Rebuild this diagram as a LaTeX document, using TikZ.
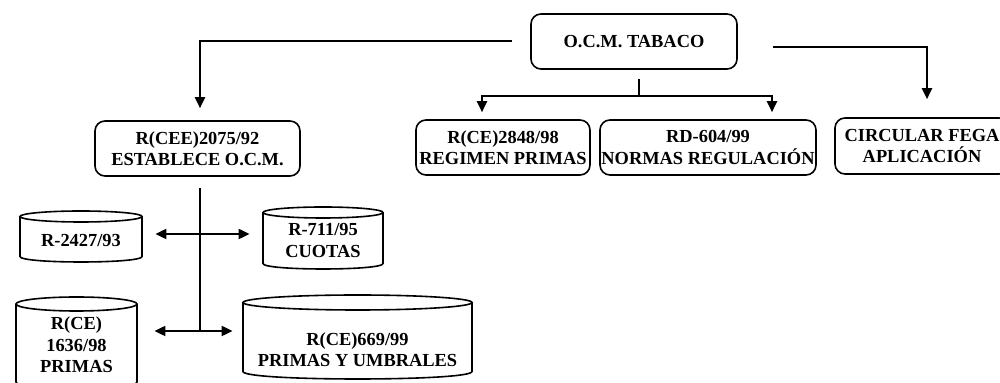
\documentclass[tikz,border=0pt]{standalone}
\usepackage{fontspec}
\setmainfont{Liberation Serif}
\usetikzlibrary{arrows.meta,calc}
\tikzset{
  boxnode/.style={draw,line width=0.8pt,rounded corners=5pt,align=center,inner sep=0pt,
    font=\fontsize{9.2}{10.7}\selectfont\bfseries},
  drumtext/.style={align=center,inner sep=0pt,font=\fontsize{9.2}{10.7}\selectfont\bfseries},
  drumline/.style={line width=0.8pt},
  conn/.style={line width=1pt,-{Triangle[length=5.5pt,width=5pt]}},
  plain/.style={line width=1pt},
  dbl/.style={line width=1pt,{Triangle[length=5.5pt,width=5pt]}-{Triangle[length=5.5pt,width=5pt]}}
}
% #1 name, #2 x1, #3 x2, #4 ytop, #5 ybot, #6 ry, #7 text, #8 text y shift (px)
\newcommand\drumshape[8]{%
  \draw[drumline] ({#2},{#4+#6}) -- ({#2},{#5-#6})
    .. controls ({#2},{#5-#6+1.333*#6}) and ({#3},{#5-#6+1.333*#6}) .. ({#3},{#5-#6})
    -- ({#3},{#4+#6});
  \draw[drumline] ({(#2+#3)/2},{#4+#6}) ellipse [x radius={(#3-#2)/2}, y radius={#6}];
  \node[drumtext,minimum width={(#3-#2)*0.5pt}] (#1) at ({(#2+#3)/2},{(#4+2*#6+#5)/2+#8}) {#7};
}
\begin{document}
\begin{tikzpicture}[x=0.5pt,y=-0.5pt]
\useasboundingbox (0,0) rectangle (1000,383);
\clip (0,0) rectangle (1000,383);
% boxes
\node[boxnode,minimum width=103pt,minimum height=27.5pt] (ocm) at (634,41.5) {O.C.M. TABACO};
\node[boxnode,minimum width=102.5pt,minimum height=27.5pt] (b2075) at (197.5,148.5) {R(CEE)2075/92\\ESTABLECE O.C.M.};
\node[boxnode,minimum width=87pt,minimum height=27.5pt] (b2848) at (503,147.5) {R(CE)2848/98\\REGIMEN PRIMAS};
\node[boxnode,minimum width=108pt,minimum height=27.5pt] (b604) at (708,147.5) {RD-604/99\\NORMAS REGULACIÓN};
\node[boxnode,minimum width=87pt,minimum height=28pt] (fega) at (922,146) {CIRCULAR FEGA\\APLICACIÓN};
% cylinders
\drumshape{c2427}{20}{142}{211}{262}{5.5}{R-2427/93}{-1}
\drumshape{c711}{263}{383}{207}{269}{5.5}{R-711/95\\CUOTAS}{-3}
\drumshape{c1636}{16}{137}{297}{389}{7}{R(CE)\\1636/98\\PRIMAS}{-5}
\drumshape{c669}{243}{472}{295}{379}{7.5}{R(CE)669/99\\PRIMAS Y UMBRALES}{5}
% connectors from top box
\coordinate (r1) at (773,47);
\coordinate (m2) at (639,96);
\coordinate (v) at (200,331);
\coordinate (j1) at (200,234);
\draw[conn,shorten >=6pt] ([xshift=-9pt]ocm.west) -| ([xshift=1.25pt]b2075.north);
\draw[conn,shorten >=9pt] (r1) -| ([xshift=2.5pt]fega.north);
\draw[plain] ([xshift=2.5pt,yshift=-4.5pt]ocm.south) -- (m2);
\draw[conn,shorten >=3.5pt] (m2) -| ([xshift=-10.5pt]b2848.north);
\draw[conn,shorten >=3.5pt] (m2) -| ([xshift=32pt]b604.north);
% lower tree
\draw[plain] ([xshift=1.25pt,yshift=-5.5pt]b2075.south) -- (v);
\draw[dbl,shorten <=6.5pt,shorten >=6.5pt] (j1 -| c2427.east) -- (j1 -| c711.west);
\draw[dbl,shorten <=8.5pt,shorten >=5pt] (v -| c1636.east) -- (v -| c669.west);
\end{tikzpicture}
\end{document}
